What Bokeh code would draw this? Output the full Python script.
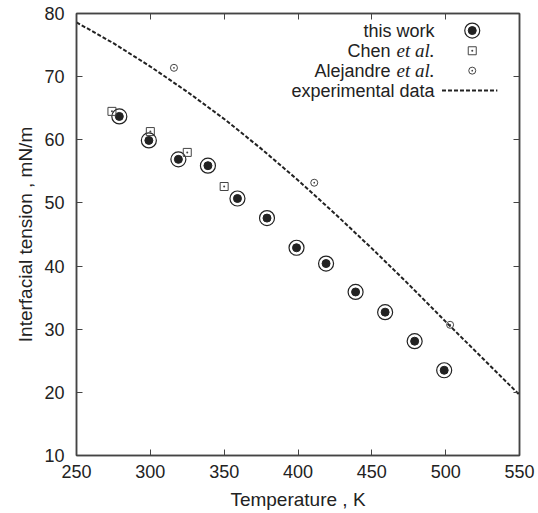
from bokeh.plotting import figure
from bokeh.models import LinearAxis, FixedTicker, Label, Range1d
from bokeh.embed import file_html
from bokeh.resources import INLINE

# ---------------- data ----------------
work_T = [279, 299, 319, 339, 359, 379, 399, 419, 439, 459, 479, 499]
work_gamma = [63.7, 59.9, 56.9, 55.9, 50.7, 47.6, 42.9, 40.4, 35.9, 32.7, 28.1, 23.5]

chen_T = [274, 300, 325, 350]
chen_gamma = [64.5, 61.3, 58.0, 52.6]

alej_T = [316, 411, 503]
alej_gamma = [71.4, 53.2, 30.7]

exp_T = [250, 275, 300, 325, 350, 375, 400, 425, 450, 475, 500, 525, 550]
exp_gamma = [78.6, 75.3, 71.6, 67.6, 63.3, 58.6, 53.6, 48.3, 42.8, 37.1, 31.2, 25.4, 19.6]

x_ticks = [250, 300, 350, 400, 450, 500, 550]
y_ticks = [10, 20, 30, 40, 50, 60, 70, 80]

SANS = "Liberation Sans"
SERIF = "Liberation Serif"
INK = "#222222"
AX = "#444444"

p = figure(width=538, height=513, output_backend="svg", toolbar_location=None,
           x_range=Range1d(250, 550), y_range=Range1d(10, 80),
           min_border_left=76, min_border_right=19, min_border_top=13, min_border_bottom=58,
           background_fill_color="white", border_fill_color="white")
p.xgrid.visible = False
p.ygrid.visible = False
p.outline_line_color = AX
p.outline_line_width = 1.5

def style_axis(ax, ticks, labels=True):
    ax.ticker = FixedTicker(ticks=ticks)
    ax.minor_tick_line_color = None
    ax.major_tick_in = 6
    ax.major_tick_out = 0
    ax.major_tick_line_color = AX
    ax.major_tick_line_width = 1
    ax.axis_line_color = AX
    ax.axis_line_width = 1.5
    if labels:
        ax.major_label_text_font = SANS
        ax.major_label_text_font_size = "18px"
        ax.major_label_text_color = INK
        ax.axis_label_text_font = SANS
        ax.axis_label_text_font_size = "19px"
        ax.axis_label_text_font_style = "normal"
        ax.axis_label_text_color = INK
    else:
        ax.major_label_overrides = {t: "" for t in ticks}
        ax.major_label_text_font_size = "1px"
        ax.major_label_standoff = 0

style_axis(p.xaxis[0], x_ticks)
style_axis(p.yaxis[0], y_ticks)
p.xaxis[0].axis_label = "Temperature , K"
p.yaxis[0].axis_label = "Interfacial tension , mN/m"
p.xaxis[0].major_label_standoff = 9
p.xaxis[0].axis_label_standoff = 8
p.yaxis[0].major_label_standoff = 12
p.yaxis[0].axis_label_standoff = 5

top_ax = LinearAxis()
style_axis(top_ax, x_ticks, labels=False)
right_ax = LinearAxis()
style_axis(right_ax, y_ticks, labels=False)
p.add_layout(top_ax, "above")
p.add_layout(right_ax, "right")

# ---------------- marks ----------------
p.line(exp_T, exp_gamma, line_color=INK, line_width=2, line_dash="4 2")
p.scatter(work_T, work_gamma, marker="circle", size=15, fill_color=None,
          line_color=INK, line_width=1.2)
p.scatter(work_T, work_gamma, marker="circle", size=8, fill_color=INK, line_color=INK)
p.scatter(chen_T, chen_gamma, marker="square_dot", size=8, fill_color=None,
          line_color="#444444", line_width=1)
p.scatter(alej_T, alej_gamma, marker="circle_dot", size=7, fill_color=None,
          line_color="#444444", line_width=1)

# ---------------- legend (layout constants, data units) ----------------
LEG_TEXT_X = 492.5
LEG_KEY_X = 518.0
LEG_LINE_X = [497.5, 535.0]
LEG_ROWS = [77.3, 74.1, 70.95, 67.8]

def sans_label(txt, y, xoff=0):
    p.add_layout(Label(x=LEG_TEXT_X, y=y, text=txt, x_offset=xoff, text_align="right",
                       text_baseline="middle", text_font=SANS, text_font_size="18px",
                       text_color=INK))

def ital_label(txt, y):
    p.add_layout(Label(x=LEG_TEXT_X, y=y, text=txt, text_align="right",
                       text_baseline="middle", text_font=SERIF, text_font_size="19px",
                       text_font_style="italic", text_color=INK))

sans_label("this work", LEG_ROWS[0])
ital_label("et al.", LEG_ROWS[1])
sans_label("Chen", LEG_ROWS[1], xoff=-44)
ital_label("et al.", LEG_ROWS[2])
sans_label("Alejandre", LEG_ROWS[2], xoff=-44)
sans_label("experimental data", LEG_ROWS[3])

p.scatter([LEG_KEY_X], [LEG_ROWS[0]], marker="circle", size=15, fill_color=None,
          line_color=INK, line_width=1.2)
p.scatter([LEG_KEY_X], [LEG_ROWS[0]], marker="circle", size=8, fill_color=INK, line_color=INK)
p.scatter([LEG_KEY_X], [LEG_ROWS[1]], marker="square_dot", size=8, fill_color=None,
          line_color="#444444", line_width=1)
p.scatter([LEG_KEY_X], [LEG_ROWS[2]], marker="circle_dot", size=7, fill_color=None,
          line_color="#444444", line_width=1)
p.line(LEG_LINE_X, [LEG_ROWS[3], LEG_ROWS[3]], line_color=INK, line_width=2, line_dash="4 2")

open("out.html", "w").write(file_html(p, INLINE))
